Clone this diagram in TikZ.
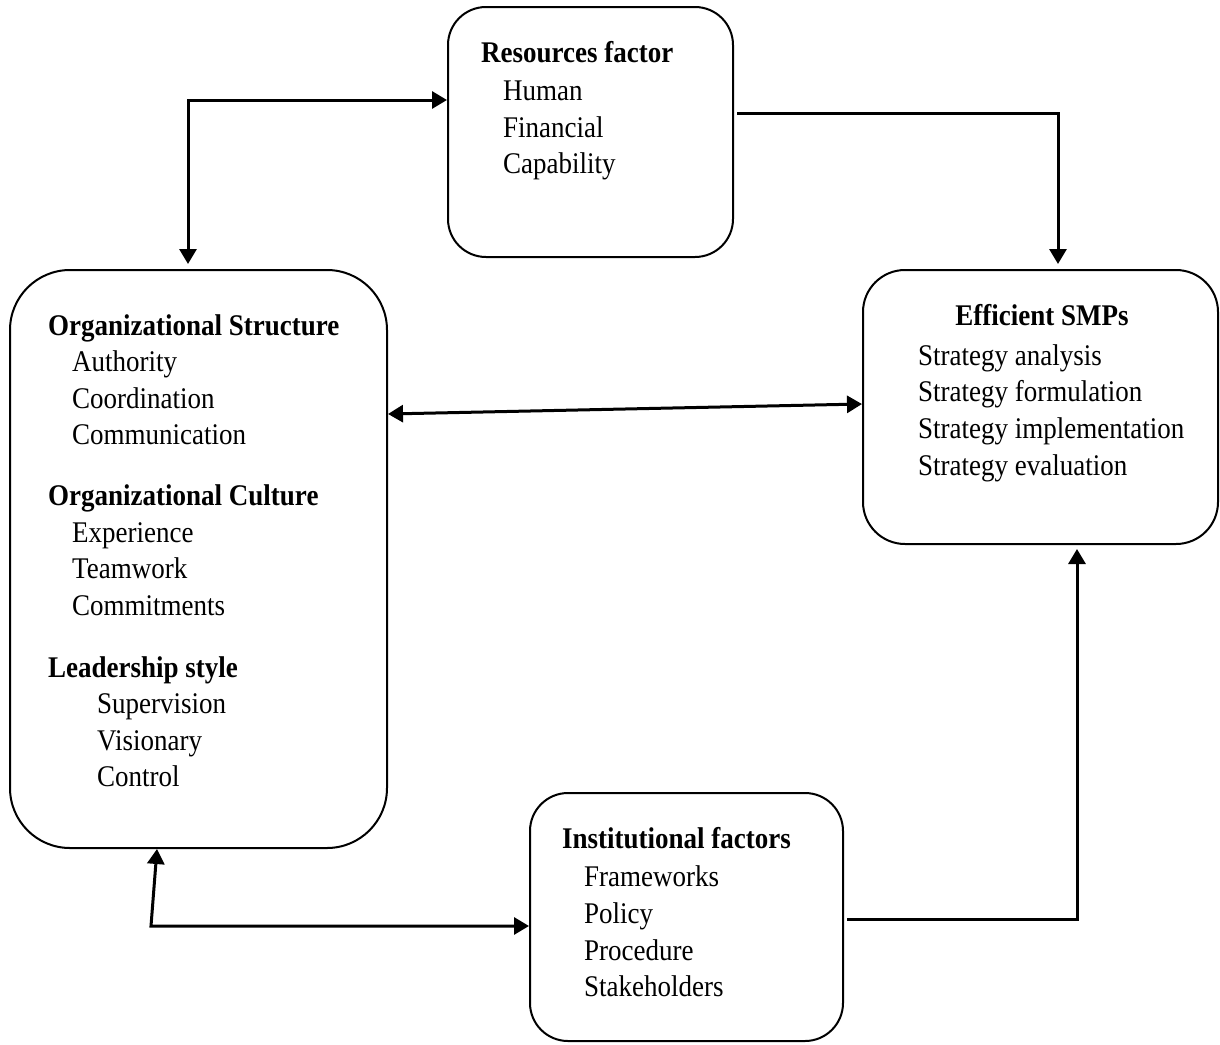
\documentclass[tikz,border=0pt]{standalone}
\usepackage{fontspec}
\setmainfont{Liberation Serif}[FakeStretch=0.9]
\usetikzlibrary{arrows.meta}
\begin{document}
\begin{tikzpicture}[x=1pt,y=-1pt,
  box/.style={draw, line width=2pt, rounded corners=38pt, inner sep=0pt},
  txt/.style={anchor=base west, inner sep=0pt, font=\fontsize{30}{36}\selectfont},
  hd/.style={anchor=base west, inner sep=0pt, font=\fontsize{30}{36}\selectfont\bfseries},
  arr/.style={line width=3pt, -{Triangle[length=15pt,width=17pt]}},
  darr/.style={line width=3pt, {Triangle[length=15pt,width=17pt]}-{Triangle[length=15pt,width=17pt]}}]
\useasboundingbox (0,0) rectangle (1220,1044);
% boxes
\node[box, minimum width=285pt, minimum height=250pt] (res) at (590.5,132) {};
\node[box, rounded corners=60pt, minimum width=377pt, minimum height=578pt] (org) at (198.5,559) {};
\node[box, rounded corners=42pt, minimum width=355pt, minimum height=274pt] (eff) at (1040.5,407) {};
\node[box, minimum width=313pt, minimum height=248pt] (inst) at (686.5,917) {};
% resources text
\node[hd] (resT) at (481,62) {Resources factor};
\node[txt] (res1) at (503,100) {Human};
\node[txt] (res2) at (503,137) {Financial};
\node[txt] (res3) at (503,173) {Capability};
% organizational text
\node[hd] (orgT1) at (48,335) {Organizational Structure};
\node[txt] (org11) at (72,371) {Authority};
\node[txt] (org12) at (72,408) {Coordination};
\node[txt] (org13) at (72,444) {Communication};
\node[hd] (orgT2) at (48,505) {Organizational Culture};
\node[txt] (org21) at (72,542) {Experience};
\node[txt] (org22) at (72,578) {Teamwork};
\node[txt] (org23) at (72,615) {Commitments};
\node[hd] (orgT3) at (48,677) {Leadership style};
\node[txt] (org31) at (97,713) {Supervision};
\node[txt] (org32) at (97,750) {Visionary};
\node[txt] (org33) at (97,786) {Control};
% efficient text
\node[hd, anchor=base] (effT) at (1042,325) {Efficient SMPs};
\node[txt] (eff1) at (918,365) {Strategy analysis};
\node[txt] (eff2) at (918,401) {Strategy formulation};
\node[txt] (eff3) at (918,438) {Strategy implementation};
\node[txt] (eff4) at (918,475) {Strategy evaluation};
% institutional text
\node[hd] (instT) at (562,848) {Institutional factors};
\node[txt] (inst1) at (584,886) {Frameworks};
\node[txt] (inst2) at (584,923) {Policy};
\node[txt] (inst3) at (584,960) {Procedure};
\node[txt] (inst4) at (584,996) {Stakeholders};
% connector coordinates
\coordinate (a1) at (188,100);
\coordinate (a2) at (1058,113);
\coordinate (a3l) at (389,414);
\coordinate (a3r) at (864,404);
\coordinate (a4a) at (157,848);
\coordinate (a4b) at (151,926);
\coordinate (a5) at (1077,919);
% connectors
\draw[darr, shorten <=5pt] (org.north -| a1) |- (res.west |- a1);
\draw[arr, shorten <=3pt, shorten >=5pt] (res.east |- a2) -| (eff.north -| a2);
\draw[darr] (org.east |- a3l) -- (eff.west |- a3r);
\draw[darr] (org.south -| a4a) -- (a4b) -- (inst.west |- a4b);
\draw[arr, shorten <=3pt, shorten >=4pt] (inst.east |- a5) -| (eff.south -| a5);
\end{tikzpicture}
\end{document}
